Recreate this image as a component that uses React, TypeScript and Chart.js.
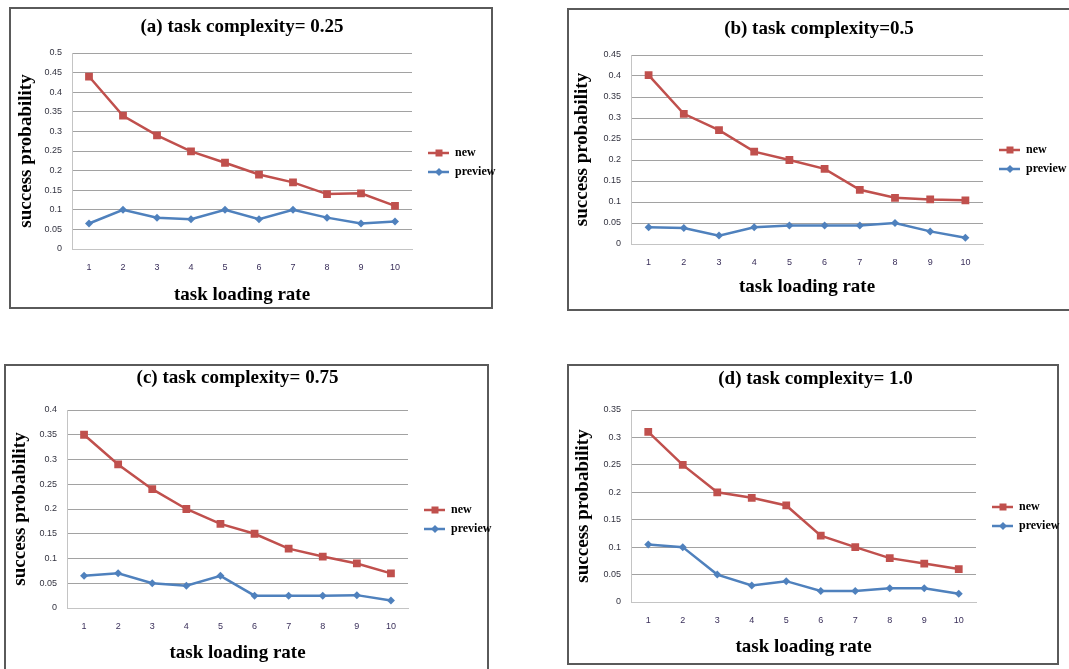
import React, { useEffect, useRef } from "react";
import { Chart, registerables } from "chart.js";

Chart.register(...registerables);

const categories = ["1", "2", "3", "4", "5", "6", "7", "8", "9", "10"];

const newA = [0.44, 0.34, 0.29, 0.249, 0.22, 0.19, 0.17, 0.14, 0.142, 0.11];
const previewA = [0.065, 0.1, 0.08, 0.076, 0.1, 0.076, 0.1, 0.08, 0.065, 0.07];

const newB = [0.402, 0.31, 0.271, 0.22, 0.2, 0.179, 0.129, 0.11, 0.106, 0.104];
const previewB = [0.04, 0.038, 0.02, 0.04, 0.044, 0.044, 0.044, 0.05, 0.03, 0.015];

const newC = [0.35, 0.29, 0.24, 0.2, 0.17, 0.15, 0.12, 0.104, 0.09, 0.07];
const previewC = [0.065, 0.07, 0.05, 0.045, 0.065, 0.025, 0.025, 0.025, 0.026, 0.015];

const newD = [0.31, 0.25, 0.2, 0.19, 0.176, 0.121, 0.1, 0.08, 0.07, 0.06];
const previewD = [0.105, 0.1, 0.05, 0.03, 0.038, 0.02, 0.02, 0.025, 0.025, 0.015];

const titles = [
  "(a) task complexity= 0.25",
  "(b) task complexity=0.5",
  "(c) task complexity= 0.75",
  "(d) task complexity= 1.0",
];
const yMaxes = [0.5, 0.45, 0.4, 0.35];
const seriesNames = ["new", "preview"];
const xTitle = "task loading rate";
const yTitle = "success probability";

const RED = "#C0504D";
const BLUE = "#4F81BD";

type Layout = {
  panel: { left: number; top: number; w: number; h: number };
  H: number;
  plotLeft: number;
  plotRight: number;
  plotTop: number;
  plotBottom: number;
  titlePad: [number, number];
  titleFull: boolean;
  xTitlePad: number;
  yTitlePad: number;
  legendT: number;
};

const layouts: Layout[] = [
  { panel: { left: 9, top: 7, w: 484, h: 302 }, H: 302, plotLeft: 63, plotRight: 403, plotTop: 46, plotBottom: 242, titlePad: [8.6, 14.6], titleFull: false, xTitlePad: 2.6, yTitlePad: 5.6, legendT: 9 },
  { panel: { left: 567, top: 8, w: 510, h: 303 }, H: 303, plotLeft: 64, plotRight: 416, plotTop: 47, plotBottom: 236, titlePad: [9.6, 14.6], titleFull: true, xTitlePad: 12.6, yTitlePad: 4, legendT: 0 },
  { panel: { left: 4, top: 364, w: 485, h: 310 }, H: 305, plotLeft: 63, plotRight: 404, plotTop: 46, plotBottom: 244, titlePad: [2.6, 20.6], titleFull: false, xTitlePad: 4.6, yTitlePad: 4.6, legendT: 6 },
  { panel: { left: 567, top: 364, w: 492, h: 301 }, H: 301, plotLeft: 64, plotRight: 409, plotTop: 46, plotBottom: 238, titlePad: [3.6, 19.6], titleFull: true, xTitlePad: 6.6, yTitlePad: 4.6, legendT: 4 },
];

const LEGEND_W = 88;

function makeIcon(color: string, style: "rect" | "diamond") {
  const c = document.createElement("canvas");
  c.width = 30;
  c.height = 12;
  const ctx = c.getContext("2d")!;
  ctx.strokeStyle = color;
  ctx.lineWidth = 2.5;
  ctx.beginPath();
  ctx.moveTo(9, 6);
  ctx.lineTo(30, 6);
  ctx.stroke();
  ctx.fillStyle = color;
  if (style === "rect") {
    ctx.fillRect(16.5, 2.5, 7, 7);
  } else {
    ctx.beginPath();
    ctx.moveTo(20, 2);
    ctx.lineTo(24, 6);
    ctx.lineTo(20, 10);
    ctx.lineTo(16, 6);
    ctx.closePath();
    ctx.fill();
  }
  return c;
}

function Panel({ idx, nv, pv }: { idx: number; nv: number[]; pv: number[] }) {
  const ref = useRef<HTMLCanvasElement>(null);
  const L = layouts[idx];
  const W = L.plotRight + LEGEND_W;
  useEffect(() => {
    const icons = [makeIcon(RED, "rect"), makeIcon(BLUE, "diamond")];
    const serif = "'Liberation Serif', 'Times New Roman', serif";
    const chart = new Chart(ref.current!, {
      type: "line",
      data: {
        labels: categories,
        datasets: [
          {
            label: seriesNames[0],
            data: nv,
            borderColor: RED,
            backgroundColor: RED,
            borderWidth: 2.5,
            pointStyle: "rect",
            pointRadius: 5.5,
            pointBorderWidth: 0,
            tension: 0,
          },
          {
            label: seriesNames[1],
            data: pv,
            borderColor: BLUE,
            backgroundColor: BLUE,
            borderWidth: 2.5,
            pointStyle: "rectRot",
            pointRadius: 4,
            pointBorderWidth: 0,
            tension: 0,
          },
        ],
      },
      options: {
        responsive: false,
        animation: false,
        layout: { padding: 0 },
        plugins: {
          title: {
            display: true,
            text: titles[idx],
            fullSize: L.titleFull,
            color: "#000",
            font: { family: serif, size: 19, weight: "bold" },
            padding: { top: L.titlePad[0], bottom: L.titlePad[1] },
          },
          legend: {
            position: "right",
            maxWidth: LEGEND_W,
            title: {
              display: L.legendT > 0,
              text: "",
              font: { size: 1, lineHeight: 1 },
              padding: { top: Math.max(L.legendT - 1, 0), bottom: 0 },
            },
            labels: {
              usePointStyle: true,
              pointStyleWidth: 30,
              padding: 7,
              color: "#000",
              font: { family: serif, size: 12, weight: "bold" },
              generateLabels: (ch: any) =>
                ch.data.datasets.map((ds: any, i: number) => ({
                  text: ds.label,
                  pointStyle: icons[i],
                  fillStyle: ds.backgroundColor,
                  strokeStyle: ds.borderColor,
                  lineWidth: 0,
                  hidden: false,
                  datasetIndex: i,
                  fontColor: "#000",
                })),
            },
          },
          tooltip: { enabled: false },
        },
        scales: {
          x: {
            type: "category",
            offset: true,
            grid: { display: false, drawTicks: false },
            border: { display: true, color: "#c4c4c4", width: 1 },
            ticks: {
              padding: 13,
              color: "#3a2f5a",
              font: { family: "'Liberation Sans', Arial, sans-serif", size: 9 },
            },
            title: {
              display: true,
              text: xTitle,
              color: "#000",
              font: { family: serif, size: 19, weight: "bold" },
              padding: { top: 0, bottom: L.xTitlePad },
            },
            afterFit: (s: any) => {
              s.height = L.H - L.plotBottom;
            },
          },
          y: {
            min: 0,
            max: yMaxes[idx],
            grid: {
              drawTicks: false,
              color: (c: any) => (c.tick && c.tick.value === 0 ? "#c4c4c4" : "#a2a2a2"),
              lineWidth: 1,
            },
            border: { display: true, color: "#c4c4c4", width: 1 },
            ticks: {
              stepSize: 0.05,
              padding: 10,
              color: "#333340",
              font: { family: "'Liberation Sans', Arial, sans-serif", size: 9 },
              callback: (v: any) => String(Number(Number(v).toFixed(2))),
            },
            title: {
              display: true,
              text: yTitle,
              color: "#000",
              font: { family: serif, size: 19, weight: "bold" },
              padding: { top: L.yTitlePad, bottom: 0 },
            },
            afterFit: (s: any) => {
              s.width = L.plotLeft;
            },
          },
        },
      },
    } as any);
    return () => chart.destroy();
  }, []);

  return (
    <>
      <div
        style={{
          position: "absolute",
          left: L.panel.left,
          top: L.panel.top,
          width: L.panel.w,
          height: L.panel.h,
          boxSizing: "border-box",
          border: "2px solid #5a5a5a",
          background: "#fff",
        }}
      />
      <canvas
        ref={ref}
        width={W}
        height={L.H}
        style={{ position: "absolute", left: L.panel.left, top: L.panel.top, width: W, height: L.H }}
      />
    </>
  );
}

export default function App() {
  return (
    <div
      style={{
        position: "absolute",
        left: 0,
        top: 0,
        width: 1069,
        height: 669,
        overflow: "hidden",
        background: "#fff",
      }}
    >
      <Panel idx={0} nv={newA} pv={previewA} />
      <Panel idx={1} nv={newB} pv={previewB} />
      <Panel idx={2} nv={newC} pv={previewC} />
      <Panel idx={3} nv={newD} pv={previewD} />
    </div>
  );
}
